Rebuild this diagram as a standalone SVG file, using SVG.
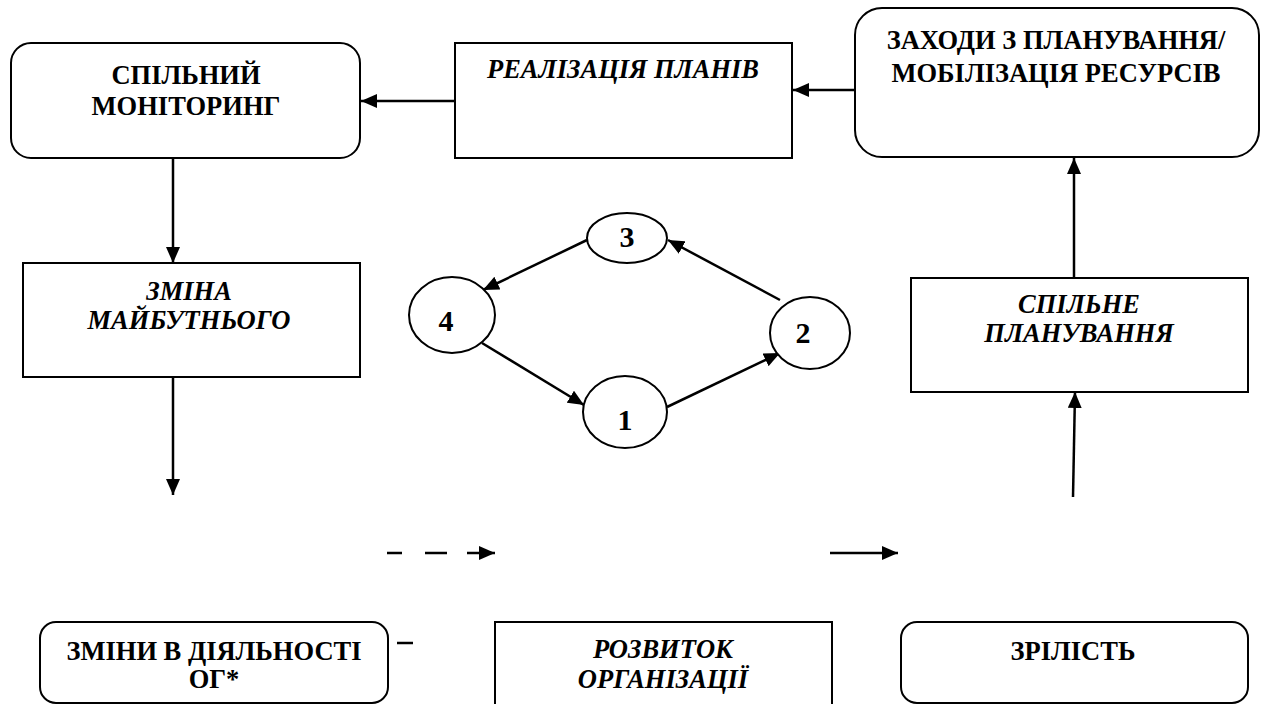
<svg xmlns="http://www.w3.org/2000/svg" width="1261" height="704" viewBox="0 0 1261 704" font-family="Liberation Serif, Times New Roman, serif">
<defs>
<style>
.box{fill:#fff;stroke:#000;stroke-width:2}
.t{font-weight:bold;font-size:26.5px;text-anchor:middle;fill:#000}
.i{font-style:italic}
.n{font-size:30px}
.c{stroke:#000;stroke-width:2.5;fill:none}
</style>
<marker id="ah" viewBox="0 0 16 14" refX="16" refY="7" markerWidth="16" markerHeight="14" markerUnits="userSpaceOnUse" orient="auto">
<path d="M0,0 L16,7 L0,14 Z" fill="#000"/>
</marker>
</defs>
<rect width="1261" height="704" fill="#fff"/>
<g id="connectors">
<line class="c" x1="455" y1="101" x2="361" y2="101" marker-end="url(#ah)"/>
<line class="c" x1="855" y1="90" x2="793" y2="90" marker-end="url(#ah)"/>
<line class="c" x1="173" y1="158" x2="173" y2="263" marker-end="url(#ah)"/>
<line class="c" x1="173" y1="377" x2="173" y2="495" marker-end="url(#ah)"/>
<line class="c" x1="1074" y1="278" x2="1074" y2="158" marker-end="url(#ah)"/>
<line class="c" x1="1073" y1="497" x2="1075" y2="392" marker-end="url(#ah)"/>
<line class="c" x1="587" y1="240" x2="483" y2="290" marker-end="url(#ah)"/>
<line class="c" x1="482" y1="343" x2="584" y2="405" marker-end="url(#ah)"/>
<line class="c" x1="667" y1="407" x2="780" y2="353" marker-end="url(#ah)"/>
<line class="c" x1="780" y1="300" x2="668" y2="240" marker-end="url(#ah)"/>
<line class="c" x1="387" y1="553" x2="495" y2="553" stroke-dasharray="15 23 22 20 30 0" marker-end="url(#ah)"/>
<line class="c" x1="830" y1="553" x2="898" y2="553" marker-end="url(#ah)"/>
<line class="c" x1="397" y1="643" x2="413" y2="643"/>
</g>
<g id="n-monitoring">
<rect class="box" x="11" y="43" width="349" height="115" rx="20"/>
<text class="t" x="186" y="84">СПІЛЬНИЙ</text>
<text class="t" x="186" y="115">МОНІТОРИНГ</text>
</g>
<g id="n-realization">
<rect class="box" x="455" y="43" width="337" height="115"/>
<text class="t i" x="623" y="78">РЕАЛІЗАЦІЯ ПЛАНІВ</text>
</g>
<g id="n-measures">
<rect class="box" x="855" y="8" width="404" height="149" rx="27"/>
<text class="t" x="1056" y="49">ЗАХОДИ З ПЛАНУВАННЯ/</text>
<text class="t" x="1056" y="82">МОБІЛІЗАЦІЯ РЕСУРСІВ</text>
</g>
<g id="n-future">
<rect class="box" x="23" y="263" width="337" height="114"/>
<text class="t i" x="189" y="300">ЗМІНА</text>
<text class="t i" x="189" y="329">МАЙБУТНЬОГО</text>
</g>
<g id="n-planning">
<rect class="box" x="911" y="278" width="337" height="114"/>
<text class="t i" x="1079" y="313">СПІЛЬНЕ</text>
<text class="t i" x="1079" y="342">ПЛАНУВАННЯ</text>
</g>
<g id="n3">
<ellipse class="box" cx="627" cy="238" rx="40" ry="25"/>
<text class="t n" x="627" y="247">3</text>
</g>
<g id="n4">
<ellipse class="box" cx="452" cy="315" rx="43" ry="38"/>
<text class="t n" x="446" y="331">4</text>
</g>
<g id="n2">
<ellipse class="box" cx="810" cy="333" rx="40" ry="36"/>
<text class="t n" x="803" y="343">2</text>
</g>
<g id="n1">
<ellipse class="box" cx="625" cy="412" rx="42" ry="36"/>
<text class="t n" x="625" y="430">1</text>
</g>
<g id="n-changes">
<rect class="box" x="40" y="622" width="348" height="81" rx="16"/>
<text class="t" x="214" y="660">ЗМІНИ В ДІЯЛЬНОСТІ</text>
<text class="t" x="214" y="688">ОГ*</text>
</g>
<g id="n-development">
<rect class="box" x="495" y="622" width="337" height="84"/>
<text class="t i" x="663" y="658">РОЗВИТОК</text>
<text class="t i" x="663" y="688">ОРГАНІЗАЦІЇ</text>
</g>
<g id="n-maturity">
<rect class="box" x="901" y="622" width="347" height="81" rx="16"/>
<text class="t" x="1073" y="660">ЗРІЛІСТЬ</text>
</g>
</svg>
